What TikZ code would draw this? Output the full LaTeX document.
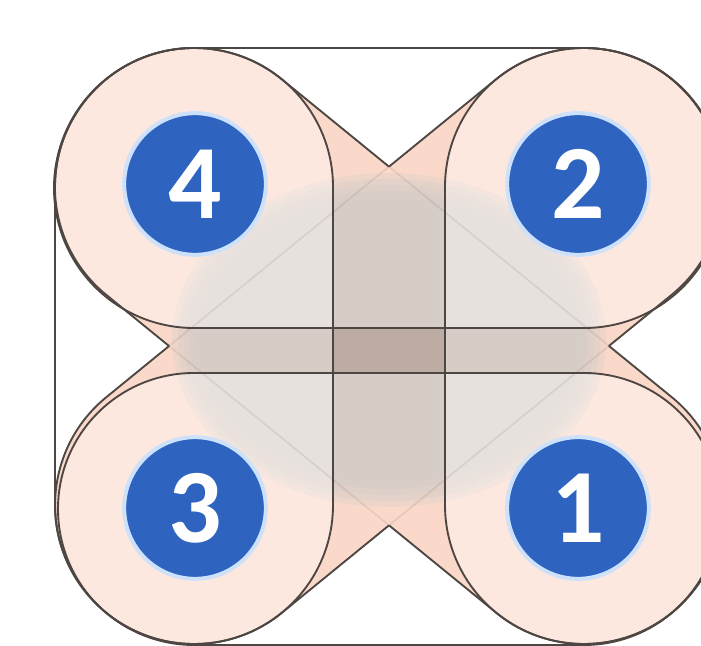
\documentclass[tikz,border=0pt]{standalone}
\usepackage{fontspec}
\setmainfont{Carlito}
\definecolor{peach}{RGB}{247,193,168}
\definecolor{egray}{RGB}{180,170,163}
\definecolor{lineclr}{RGB}{78,70,66}
\definecolor{faintclr}{RGB}{120,100,90}
\definecolor{numblue}{RGB}{46,99,192}
\definecolor{halo}{RGB}{205,225,250}
\newcommand\pillA[2]{\path[#1] #2 (281.8,566.7) arc[start angle=50.8,end angle=230.8,radius=139] -- (496.2,33.3) arc[start angle=230.8,end angle=410.8,radius=139] -- cycle;}
\newcommand\pillB[2]{\path[#1] #2 (671.8,351.3) arc[start angle=-50.8,end angle=129.2,radius=139] -- (106.2,248.7) arc[start angle=129.2,end angle=309.2,radius=139] -- cycle;}
\newcommand\pillL[1]{\path[#1] (55,459) -- (55,141) arc[start angle=180,end angle=360,radius=139] -- (333,459) arc[start angle=0,end angle=180,radius=139] -- cycle;}
\newcommand\pillR[1]{\path[#1] (445,459) -- (445,141) arc[start angle=180,end angle=360,radius=139] -- (723,459) arc[start angle=0,end angle=180,radius=139] -- cycle;}
\newcommand\pillT[1]{\path[#1] (194,598) -- (584,598) arc[start angle=90,end angle=-90,radius=140] -- (194,318) arc[start angle=270,end angle=90,radius=140] -- cycle;}
\newcommand\pillD[1]{\path[#1] (194,273) -- (584,273) arc[start angle=90,end angle=-90,radius=136] -- (194,1) arc[start angle=270,end angle=90,radius=136] -- cycle;}
\tikzset{
  outl/.style={draw=lineclr,line width=1.6pt},
  faintl/.style={draw=faintclr,draw opacity=0.14,line width=1.4pt},
  veil/.style={fill=white,fill opacity=0.4},
  disc/.style={fill=egray,opacity=0.32},
  numc/.style={circle,fill=numblue,draw=halo,line width=3.4pt,minimum size=4.25cm,inner sep=0pt,
    text=white,font=\fontsize{90}{90}\selectfont\bfseries}
}
\begin{document}
\begin{tikzpicture}[x=0.03cm,y=0.03cm]
\useasboundingbox (0,0) rectangle (701,646);
\fill[white] (0,0) rectangle (701,646);
% diagonal arms
\pillA{fill=peach}{}
\pillB{fill=peach}{}
% central gray disc (soft edge)
\foreach \d in {12,6,0,-6,-12}
  \fill[disc] (389,306) ellipse [x radius=205+\d,y radius=155+\d];
% light veils of the straight pills
\pillL{veil}
\pillR{veil}
\pillT{veil}
\pillD{veil}
% diagonal outlines: dark outside the other arm, faint inside it
\begin{scope}[even odd rule]
  \pillB{clip}{(-20,-20) rectangle (721,666)}
  \pillA{outl}{}
\end{scope}
\begin{scope}[even odd rule]
  \pillA{clip}{(-20,-20) rectangle (721,666)}
  \pillB{outl}{}
\end{scope}
\begin{scope}
  \pillB{clip}{}
  \pillA{faintl}{}
\end{scope}
\begin{scope}
  \pillA{clip}{}
  \pillB{faintl}{}
\end{scope}
% straight pill outlines
\pillL{outl}
\pillR{outl}
\pillT{outl}
\pillD{outl}
% numbers
\node[numc] (n4) at (195,462) {4};
\node[numc] (n2) at (578,462) {2};
\node[numc] (n3) at (195,138) {3};
\node[numc] (n1) at (578,138) {1};
\end{tikzpicture}
\end{document}
